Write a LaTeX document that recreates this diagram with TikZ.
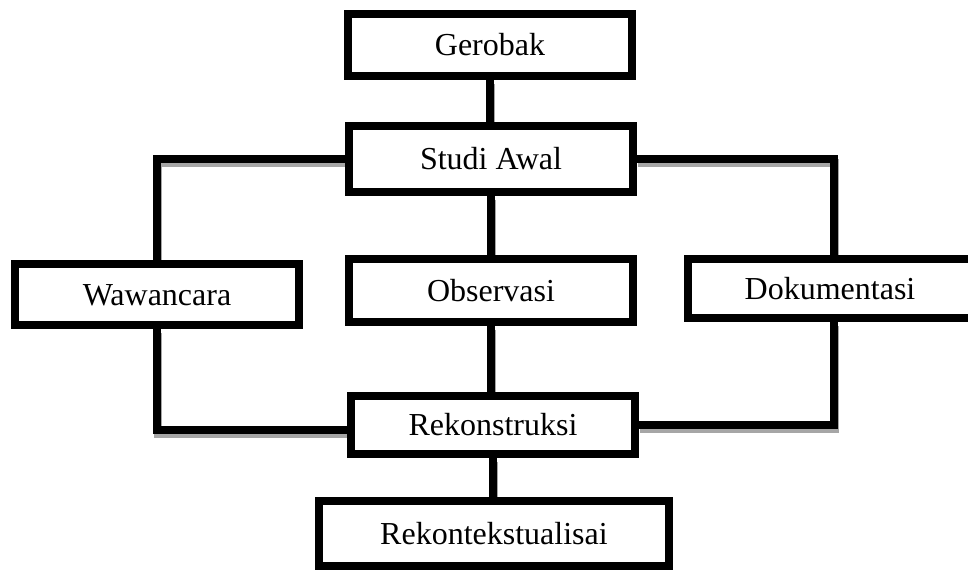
\documentclass[tikz,border=0pt]{standalone}
\usepackage{fontspec}
\setmainfont{Liberation Serif}
\usetikzlibrary{backgrounds}

% semua garis penghubung, dipakai dua kali (bayangan dan garis)
\newcommand{\garispenghubung}[1]{
	\draw[#1] (G.south) -- (G.south |- S.north);
	\draw[#1] (S.west) -| (W.north);
	\draw[#1] (S.east) -| ([xshift=4pt]D.north);
	\draw[#1] (S.south) -- (S.south |- O.north);
	\draw[#1] (W.south) |- ([yshift=-5pt]R.west);
	\draw[#1] ([xshift=4pt]D.south) |- (R.east);
	\draw[#1] (O.south) -- (O.south |- R.north);
	\draw[#1] (R.south) -- (R.south |- K.north);
}

\begin{document}
\begin{tikzpicture}
				[x=1pt,y=-1pt,
				every node/.style={font=\fontsize{32}{38}\selectfont},
				tahap/.style={draw=black,line width=8pt,fill=white,minimum width=284pt,inner sep=0pt,text height=21pt,text depth=0pt},
				hubung/.style={draw=black,line width=8pt},
				bayangan/.style={draw=black!35,line width=8pt}]

				\path[use as bounding box,clip] (0,0) rectangle (968,570);

				\node[tahap,minimum height=62pt] (G) at (490,45) {Gerobak};
				\node[tahap,minimum height=66pt] (S) at (491,159) {Studi Awal};
				\node[tahap,minimum height=61pt] (W) at (157,294.5) {Wawancara};
				\node[tahap,minimum height=63pt] (O) at (491,290.5) {Observasi};
				\node[tahap,minimum height=59pt] (D) at (830,288.5) {Dokumentasi};
				\node[tahap,minimum height=58pt] (R) at (493,425) {Rekonstruksi};
				\node[tahap,minimum width=350pt,minimum height=65pt] (K) at (494,533.5) {Rekontekstualisai};

				\begin{scope}[on background layer]
					\begin{scope}[transform canvas={xshift=1pt,yshift=-4pt}]
						\garispenghubung{bayangan}
					\end{scope}
					\garispenghubung{hubung}
				\end{scope}
			\end{tikzpicture}
\end{document}
